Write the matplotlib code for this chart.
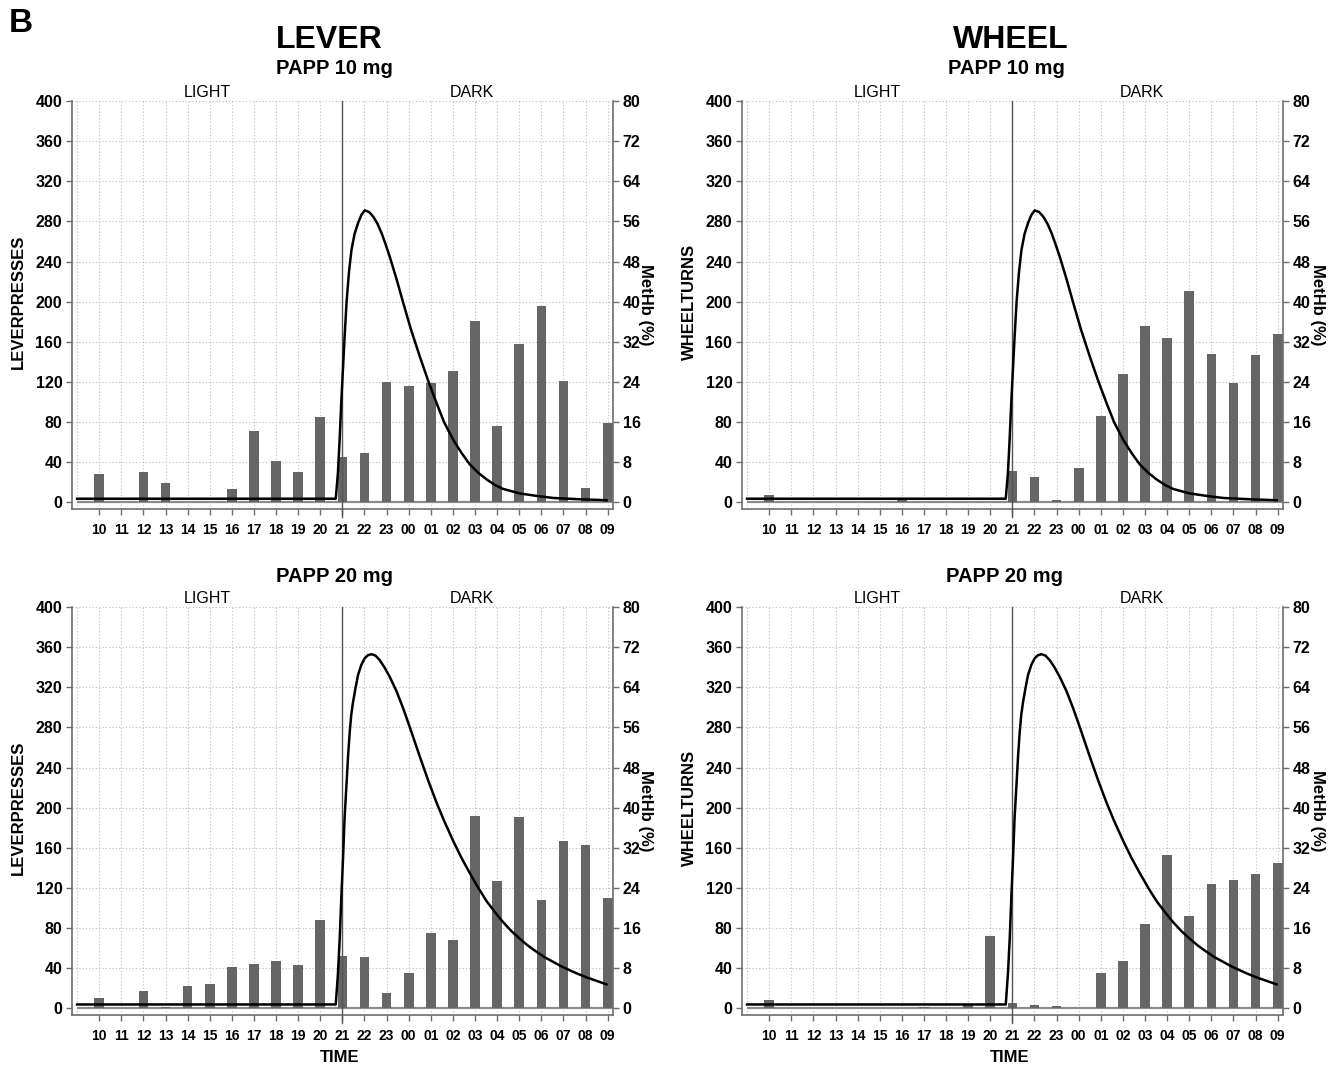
import matplotlib
matplotlib.use('Agg')
import matplotlib.pyplot as plt
import numpy as np

plt.rcParams['font.family'] = ['Liberation Sans', 'DejaVu Sans']

# ---------------- data ----------------
hours = ['10', '11', '12', '13', '14', '15', '16', '17', '18', '19', '20', '21',
         '22', '23', '00', '01', '02', '03', '04', '05', '06', '07', '08', '09']

lever_10 = [28, 0, 30, 19, 0, 0, 13, 71, 41, 30, 85, 45,
            49, 120, 116, 119, 131, 181, 76, 158, 196, 121, 14, 79]
wheel_10 = [7, 0, 0, 0, 0, 0, 2, 0, 0, 0, 0, 31,
            25, 2, 34, 86, 128, 176, 164, 211, 148, 119, 147, 168]
lever_20 = [10, 0, 17, 1, 22, 24, 41, 44, 47, 43, 88, 52,
            51, 15, 35, 75, 68, 192, 127, 191, 108, 167, 163, 110]
wheel_20 = [8, 0, 0, 0, 0, 0, 0, 1, 0, 4, 72, 5,
            3, 2, 0, 35, 47, 84, 153, 92, 124, 128, 134, 145]

# MetHb (%) curves, time in hours after 10:00
methb_10_t = [-1.0, 10.70, 10.80, 10.88, 10.95, 11.03, 11.10, 11.19, 11.30, 11.41,
              11.55, 11.71, 11.86, 12.01, 12.20, 12.39, 12.58, 12.77, 12.95, 13.14,
              13.45, 13.75, 14.10, 14.50, 14.90, 15.26, 15.60, 16.01, 16.40, 16.76,
              17.15, 17.52, 17.90, 18.27, 19.02, 19.80, 20.53, 21.70, 22.95]
methb_10 = [0.75, 0.75, 6.0, 13.0, 20.0, 27.0, 33.0, 40.0, 46.0, 50.3,
            53.5, 55.7, 57.3, 58.2, 57.9, 57.0, 55.6, 53.7, 51.5, 49.0,
            44.5, 39.8, 34.5, 29.1, 24.0, 19.8, 16.0, 12.5, 9.8, 7.6,
            5.9, 4.6, 3.5, 2.7, 1.8, 1.3, 0.9, 0.65, 0.45]

methb_20_t = [-1.0, 10.70, 10.80, 10.88, 10.95, 11.03, 11.10, 11.19, 11.26, 11.33,
              11.40, 11.48, 11.60, 11.71, 11.86, 12.01, 12.16, 12.32, 12.50, 12.69,
              12.90, 13.14, 13.45, 13.75, 14.10, 14.50, 14.90, 15.26, 15.60, 16.01,
              16.40, 16.76, 17.15, 17.52, 17.90, 18.27, 18.65, 19.02, 19.40, 19.78,
              20.15, 20.53, 20.90, 21.29, 21.65, 22.04, 22.50, 22.95]
methb_20 = [0.8, 0.8, 7.0, 14.0, 22.0, 30.0, 38.0, 45.0, 50.5, 55.0,
            58.5, 61.0, 64.0, 66.5, 68.5, 69.8, 70.4, 70.6, 70.3, 69.4,
            68.0, 66.1, 63.2, 59.8, 55.4, 50.2, 45.2, 41.0, 37.4, 33.4,
            29.9, 27.0, 24.0, 21.4, 19.2, 17.2, 15.4, 13.9, 12.5, 11.3,
            10.2, 9.3, 8.4, 7.6, 6.9, 6.2, 5.5, 4.8]

left_ticks = list(range(0, 401, 40))
right_ticks = list(range(0, 81, 8))

# ---------------- figure ----------------
W, H = 1336, 1068
fig = plt.figure(figsize=(W / 100, H / 100), dpi=100)

SPINE = '#6e6e6e'
GRID = '#bdbdbd'
BAR = '#666666'


def fx(px):
    return px / W


def fy(py):
    return 1 - py / H


def panel(left_px, top_px, bars, t, m):
    right_px = left_px + 541
    bottom_px = top_px + 408
    ax = fig.add_axes([fx(left_px), fy(bottom_px), (right_px - left_px) / W, (bottom_px - top_px) / H])
    x = np.arange(len(hours))
    ax.set_xlim(-1.23, 23.24)
    ax.set_ylim(-6.5, 400)
    for xv in range(-1, 24):
        ax.axvline(xv, color=GRID, ls=(0, (1, 2)), lw=0.8, zorder=0)
    for yv in left_ticks[1:]:
        ax.axhline(yv, color=GRID, ls=(0, (1, 2)), lw=0.8, zorder=0)
    ax.plot([-1, 23.24], [0, 0], color='#8c8c8c', lw=1.6, zorder=1, solid_capstyle='butt')
    ax.bar(x, bars, width=0.44, color=BAR, zorder=2)
    ax.axvline(11, ymin=-0.02, ymax=1, color='#555555', lw=1.0, zorder=3, clip_on=False)

    ax.set_xticks(x)
    ax.set_xticklabels(hours, fontsize=10, fontweight='bold',
                       family=['Liberation Sans Narrow', 'Liberation Sans'])
    ax.set_yticks(left_ticks)
    ax.set_yticklabels([str(v) for v in left_ticks], fontsize=11.5, fontweight='bold')
    ax.tick_params(axis='both', direction='out', length=4, width=1, color=SPINE, pad=3)
    ax.tick_params(axis='x', pad=6)
    for s in ['top', 'right']:
        ax.spines[s].set_visible(False)
    for s in ['left', 'bottom']:
        ax.spines[s].set_color(SPINE)
        ax.spines[s].set_linewidth(1.2)

    ax2 = ax.twinx()
    ax2.set_ylim(-6.5 / 5, 80)
    ax2.plot(t, m, color='black', lw=1.8, zorder=5, solid_joinstyle='round')
    ax2.set_yticks(right_ticks)
    ax2.set_yticklabels([str(v) for v in right_ticks], fontsize=11.5, fontweight='bold')
    ax2.tick_params(axis='y', direction='out', length=4, width=1, color=SPINE, pad=3)
    for s in ['top', 'left', 'bottom']:
        ax2.spines[s].set_visible(False)
    ax2.spines['right'].set_color(SPINE)
    ax2.spines['right'].set_linewidth(1.2)

    # LIGHT / DARK
    ax.text(4.9, 1.003, 'LIGHT', transform=ax.get_xaxis_transform(), ha='center', va='bottom',
            fontsize=11.5)
    ax.text(16.85, 1.003, 'DARK', transform=ax.get_xaxis_transform(), ha='center', va='bottom',
            fontsize=11.5)
    return ax


panel(72, 101, lever_10, methb_10_t, methb_10)
panel(742, 101, wheel_10, methb_10_t, methb_10)
panel(72, 607, lever_20, methb_20_t, methb_20)
panel(742, 607, wheel_20, methb_20_t, methb_20)

# axis labels
for (xp, yp, txt) in [(18, 302, 'LEVERPRESSES'), (18, 808, 'LEVERPRESSES'),
                      (689, 302, 'WHEELTURNS'), (689, 808, 'WHEELTURNS')]:
    fig.text(fx(xp), fy(yp), txt, rotation=90, ha='center', va='center',
             fontsize=12, fontweight='bold')
for (xp, yp) in [(646, 305), (646, 811), (1317, 305), (1317, 811)]:
    fig.text(fx(xp), fy(yp), 'MetHb (%)', rotation=270, ha='center', va='center',
             fontsize=12, fontweight='bold')

# titles
fig.text(fx(21), fy(23), 'B', ha='center', va='center', fontsize=24, fontweight='bold')
fig.text(fx(329), fy(40), 'LEVER', ha='center', va='center', fontsize=23, fontweight='bold')
fig.text(fx(1011), fy(40), 'WHEEL', ha='center', va='center', fontsize=23, fontweight='bold')
fig.text(fx(334), fy(69), 'PAPP 10 mg', ha='center', va='center', fontsize=14.5, fontweight='bold')
fig.text(fx(1006), fy(69), 'PAPP 10 mg', ha='center', va='center', fontsize=14.5, fontweight='bold')
fig.text(fx(335), fy(576), 'PAPP 20 mg', ha='center', va='center', fontsize=14.5, fontweight='bold')
fig.text(fx(1005), fy(576), 'PAPP 20 mg', ha='center', va='center', fontsize=14.5, fontweight='bold')
fig.text(fx(340), fy(1058), 'TIME', ha='center', va='center', fontsize=12, fontweight='bold')
fig.text(fx(1010), fy(1058), 'TIME', ha='center', va='center', fontsize=12, fontweight='bold')

fig.savefig('out.png', dpi=100, facecolor='white')
